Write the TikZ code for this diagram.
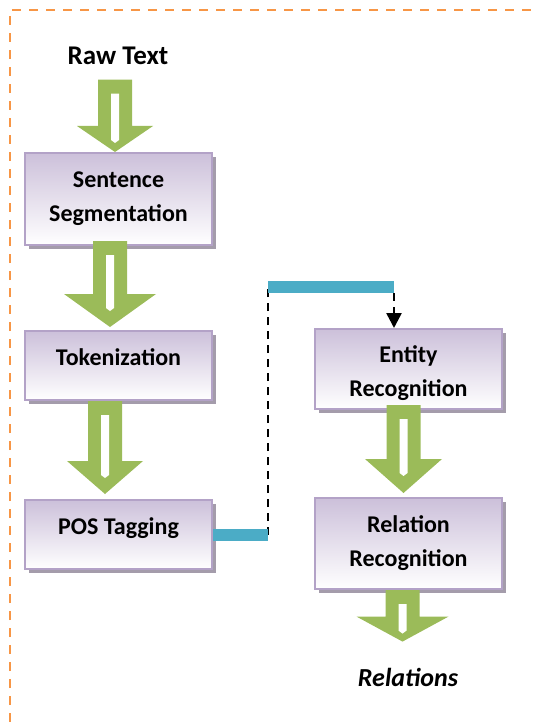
\documentclass[tikz,border=0pt]{standalone}
\usepackage{fontspec}
\setmainfont{Carlito}
\usepackage{tikz}
\usetikzlibrary{positioning,shadows,arrows.meta,calc}

\definecolor{stageedge}{HTML}{B3A2C7}
\definecolor{stagetop}{HTML}{CCC0DA}
\definecolor{stageshadow}{HTML}{A49CAB}
\definecolor{arrowgreen}{HTML}{9BBB59}
\definecolor{linkcyan}{HTML}{4BACC6}
\definecolor{frameorange}{HTML}{F79646}

% fat green arrow: start, tip, axis shift, head half width, head length
\newcommand{\fatarrow}[5]{%
  \fill[arrowgreen] let \p1=#1, \p2=#2 in
    (\x2+#3pt-17pt,\y1) -- (\x2+#3pt+17pt,\y1) -- (\x2+#3pt+17pt,\y2+#5pt)
    -- (\x2+#3pt+#4pt,\y2+#5pt) -- (\x2+#3pt,\y2) -- (\x2+#3pt-#4pt,\y2+#5pt)
    -- (\x2+#3pt-17pt,\y2+#5pt) -- cycle;
  \fill[white] let \p1=#1, \p2=#2 in
    (\x2+#3pt-4pt,\y1-14pt) -- (\x2+#3pt+4pt,\y1-14pt) -- (\x2+#3pt+4pt,\y2+#5pt-14pt)
    -- (\x2+#3pt,\y2+#5pt-17pt) -- (\x2+#3pt-4pt,\y2+#5pt-14pt) -- cycle;
}

\begin{document}
\begin{tikzpicture}[x=1pt,y=-1pt,font=\fontsize{24}{34}\selectfont\bfseries]
        \tikzstyle{stage} = [rectangle, minimum width=187pt, text centered, align=center, draw=stageedge, line width=2pt, top color=stagetop, bottom color=white, drop shadow={shadow xshift=4pt, shadow yshift=-4pt, fill=stageshadow, opacity=1}]
        \tikzstyle{cyanbar} = [linkcyan, line width=12pt]
        \tikzstyle{dashlink} = [black, line width=2.6pt, dash pattern=on 8pt off 6pt]

        \useasboundingbox (0,0) rectangle (536,722);
        \draw [frameorange, line width=2.5pt, dash pattern=on 9pt off 8pt] (10,722) -- (10,10) -- (536,10);

        \node (raw) [inner xsep=0pt, inner ysep=15pt, font=\fontsize{27}{34}\selectfont\bfseries] at (118,55.5) {Raw Text};
        \node (seg) [stage, minimum height=92pt] at (118.5,199) {Sentence\\Segmentation};
        \node (tok) [stage, minimum height=69pt, text height=16.5pt, text depth=16.5pt, below=84pt of seg] {Tokenization};
        \node (pos) [stage, minimum height=69pt, text height=16.5pt, text depth=16.5pt, below=98pt of tok] {POS Tagging};
        \node (ent) [stage, minimum height=80pt] at (408.5,369) {\rule{0pt}{26pt}Entity\\Recognition};
        \node (rel) [stage, minimum height=91pt, below=87pt of ent] {Relation\\Recognition};
        \node (out) [inner sep=2pt, font=\fontsize{26}{34}\selectfont\bfseries\itshape] at (408,677) {Relations};

        \fatarrow{(raw.south)}{(seg.north)}{-3.5}{38}{26}
        \fatarrow{([yshift=5pt]seg.south)}{([yshift=3pt]tok.north)}{-8.5}{46}{33}
        \fatarrow{(tok.south)}{([yshift=5pt]pos.north)}{-13.5}{38}{33}
        \fatarrow{([yshift=5pt]ent.south)}{([yshift=4pt]rel.north)}{-5}{38.5}{34}
        \fatarrow{(rel.south)}{([yshift=24pt]out.north)}{-5.5}{46}{25}

        \coordinate (low) at (268,535);
        \coordinate (high) at (268,287);
        \coordinate (over) at (394,287);
        \draw [dashlink] (low) -- (high);
        \draw [cyanbar] (pos.east |- low) -- (low);
        \draw [cyanbar] (high) -- (over);
        \draw [dashlink, -{Triangle[width=15pt,length=15pt]}] ([yshift=-6pt]over) -- (over |- ent.north);
    \end{tikzpicture}
\end{document}
